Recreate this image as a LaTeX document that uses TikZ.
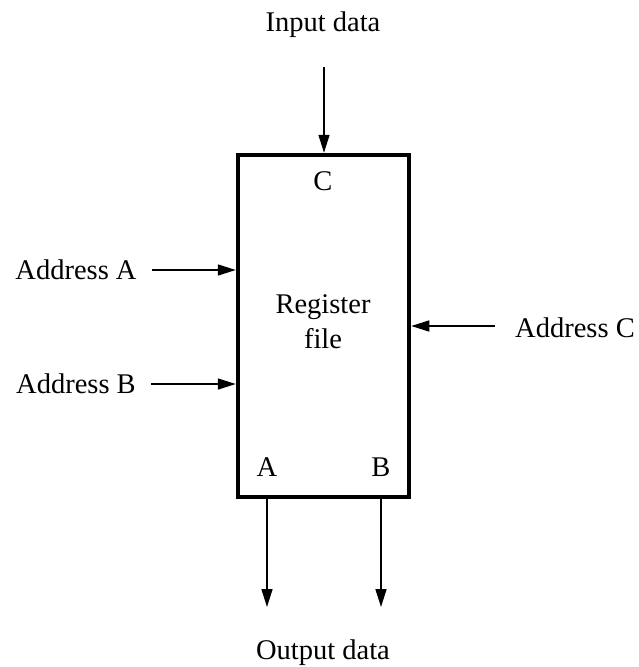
\documentclass[tikz,border=0pt]{standalone}
\usepackage{fontspec}
\setmainfont{Liberation Serif}
\usetikzlibrary{arrows.meta}
\begin{document}
\begin{tikzpicture}[x=1pt, y=-1pt,
    font=\fontsize{28.5}{35}\selectfont,
    sig/.style={-{Triangle[length=18pt, width=11pt]}, line width=1.6pt},
    lbl/.style={inner sep=0pt}]
  \useasboundingbox (0,0) rectangle (639,667);
  % register file block
  \node[draw, line width=4.5pt, minimum width=171pt, minimum height=342pt] (RF) at (323.5,326) {};
  \node[align=center, lbl] (RFname) at (323,322) {Register\\file};
  \node[lbl] (PC) at (323,181) {C};
  \node[lbl] (PA) at (267,467) {A};
  \node[lbl] (PB) at (381,467) {B};
  % outside labels
  \node[lbl] (In) at (323,25) {Input data};
  \node[lbl] (AdrA) at (76,270) {Address A};
  \node[lbl] (AdrB) at (76,384) {Address B};
  \node[lbl] (AdrC) at (575,328) {Address C};
  \node[lbl] (Out) at (323,653) {Output data};
  \coordinate (InTop) at (324,67);
  \coordinate (OutA) at (267,607);
  \coordinate (OutB) at (381,607);
  % connections
  \draw[sig] (InTop) -- (InTop |- RF.north);
  \draw[sig] ([xshift=15pt]AdrA.east) -- (AdrA -| RF.west);
  \draw[sig] ([xshift=15pt]AdrB.east) -- (AdrB -| RF.west);
  \draw[sig] ([xshift=-20pt,yshift=2pt]AdrC.west) -- ([yshift=2pt]AdrC -| RF.east);
  \draw[sig] (PA |- RF.south) -- (OutA);
  \draw[sig] (PB |- RF.south) -- (OutB);
\end{tikzpicture}
\end{document}
